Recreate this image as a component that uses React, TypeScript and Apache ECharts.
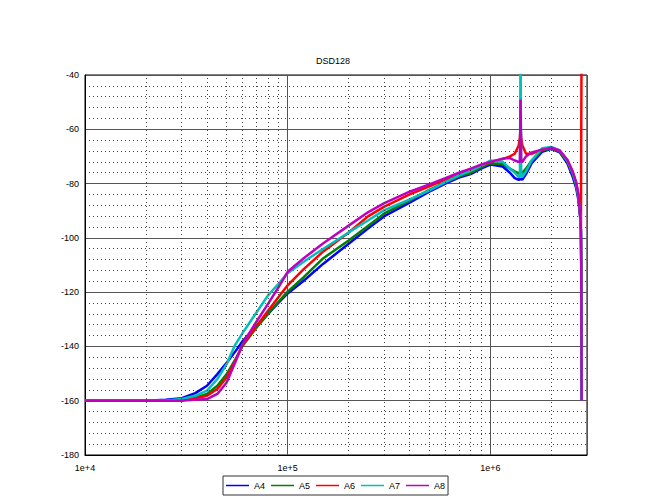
import React, { useEffect, useRef } from "react";
import * as echarts from "echarts";

const seriesNames = ["A4", "A5", "A6", "A7", "A8"];
const seriesColors = ["#0000ff", "#008000", "#ff0000", "#00bfbf", "#c000c0"];

const freq = [
  1e4, 2e4, 2.5e4, 3e4, 3.5e4, 4e4, 4.5e4, 5e4, 5.5e4, 6e4, 7e4, 8e4, 9e4,
  1e5, 1.2e5, 1.5e5, 2e5, 2.5e5, 3e5, 4e5, 5e5, 6e5, 7e5, 8e5, 9e5,
  1e6, 1.15e6, 1.25e6, 1.32e6, 1.38e6, 1.4e6, 1.41e6, 1.42e6, 1.44e6, 1.5e6, 1.6e6,
  1.8e6, 2e6, 2.2e6, 2.4e6, 2.55e6, 2.65e6, 2.72e6, 2.78e6, 2.8e6, 2.81e6, 2.8224e6,
];

const a4 = [
  -160, -160, -159.6, -159.1, -157.2, -154.5, -150.2, -146, -142, -138, -132.5, -128, -124,
  -120.5, -115.8, -109.5, -102.2, -96.5, -92, -87, -83, -80, -77.8, -76.5, -74.5,
  -73, -73.7, -76, -78, -78.6, -78.4, -78.2, -78.4, -78.5, -76.5, -72.5,
  -68.3, -67.2, -68.5, -72.5, -77.5, -81.5, -86, -93, -98, -110, -160,
];
const a5 = [
  -160, -160, -160, -159.6, -158.8, -157.5, -154.5, -150.2, -145, -139.7, -133.2, -128, -123.6,
  -119.8, -114.5, -107.5, -101, -95.5, -91, -86.2, -82.3, -79.5, -77.3, -76, -74,
  -72.5, -72.8, -74.5, -75.5, -76.2, -76, -74.5, -76, -76, -74.5, -71.5,
  -67.8, -67, -68.2, -72, -76.5, -80.5, -85, -92.5, -97.5, -110, -160,
];
const a6 = [
  -160, -160, -160, -159.8, -159.2, -158.2, -155.7, -151.4, -145.5, -139.5, -132.7, -126.9, -121.9,
  -117.5, -111.5, -105, -98, -92, -88.5, -84, -81, -78.5, -76.5, -75, -73.5,
  -72, -71, -70, -69, -66, -63, -59.5, -63, -66, -69, -69,
  -67.5, -66.8, -68, -71.5, -76, -79.5, -84, -92, -97, -97, -20,
];
const a7 = [
  -160, -160, -159.9, -159.4, -158.2, -156.3, -152, -146.5, -139.5, -135, -127.6, -121.2, -117,
  -113, -108.8, -104, -98, -93.5, -89.8, -85.8, -82.5, -79.5, -77, -75.3, -73.5,
  -71.5, -72, -74.5, -76, -77.5, -77.5, -30, -77.5, -77.5, -75.5, -71.5,
  -67, -66.5, -67.8, -71.5, -76, -80, -84.5, -92, -97.5, -110, -160,
];
const a8 = [
  -160, -160, -160, -160, -159.6, -159.4, -157.5, -153.3, -146, -139, -131, -124.3, -118.3,
  -112.5, -107.5, -102, -95.5, -90.5, -87.2, -83, -80.3, -78, -76, -74.5, -73,
  -72, -70.8, -70.6, -71.5, -72, -72, -49, -72, -72, -70, -68.5,
  -67.5, -66.8, -67.8, -71.2, -75.5, -79.5, -84, -92, -97, -110, -160,
];
const allValues = [a4, a5, a6, a7, a8];

const minorXTicks = [
  2e4, 3e4, 4e4, 5e4, 6e4, 7e4, 8e4, 9e4,
  2e5, 3e5, 4e5, 5e5, 6e5, 7e5, 8e5, 9e5,
  2e6,
];

const FONT = "'Liberation Sans', Arial, sans-serif";

export default function App() {
  const ref = useRef<HTMLDivElement>(null);
  useEffect(() => {
    if (!ref.current) return;
    const chart = echarts.init(ref.current, undefined, { renderer: "svg" });
    const dataSeries = seriesNames.map((name, si) => ({
      name,
      type: "line",
      data: freq.map((f, i) => [f, allValues[si][i]]),
      showSymbol: false,
      symbol: "none",
      clip: true,
      z: 3,
      lineStyle: { color: seriesColors[si], width: 2.5 },
      itemStyle: { color: seriesColors[si] },
    }));
    chart.setOption({
      animation: false,
      textStyle: { fontFamily: FONT },
      title: {
        text: "DSD128",
        left: "center",
        top: 56,
        padding: 0,
        textStyle: { fontSize: 9, fontWeight: "normal", color: "#000", fontFamily: FONT },
      },
      grid: {
        left: 85,
        right: 79,
        top: 75,
        bottom: 45,
        show: true,
        borderColor: "#000",
        borderWidth: 1,
        backgroundColor: "transparent",
      },
      legend: {
        data: seriesNames,
        left: 223,
        top: 476,
        padding: [5, 3],
        itemGap: 6,
        itemWidth: 23,
        itemHeight: 1.5,
        icon: "rect",
        borderColor: "#333",
        borderWidth: 1,
        textStyle: { fontSize: 9, color: "#000", fontFamily: FONT },
      },
      xAxis: {
        type: "log",
        logBase: 10,
        min: 1e4,
        max: 3e6,
        axisLine: { show: true, lineStyle: { color: "#000" } },
        axisTick: { show: false },
        axisLabel: {
          color: "#000",
          fontSize: 9,
          margin: 8,
          showMaxLabel: false,
          formatter: (v: number) => {
            const e = Math.log10(v);
            return Math.abs(e - Math.round(e)) < 1e-6 ? "1e+" + Math.round(e) : "";
          },
        },
        splitLine: { show: true, lineStyle: { color: "#555", width: 1 } },
        minorTick: { show: false },
        minorSplitLine: { show: false },
      },
      yAxis: {
        type: "value",
        min: -180,
        max: -40,
        interval: 20,
        axisLine: { show: true, lineStyle: { color: "#000" } },
        axisTick: { show: false },
        axisLabel: { color: "#000", fontSize: 9, margin: 6 },
        splitLine: { show: true, lineStyle: { color: "#555", width: 1 } },
        minorTick: { show: false, splitNumber: 5 },
        minorSplitLine: { show: true, lineStyle: { color: "#444", width: 1, type: [1, 3] } },
      },
      series: [
        {
          type: "line",
          data: [],
          z: 1,
          silent: true,
          markLine: {
            silent: true,
            symbol: ["none", "none"],
            label: { show: false },
            lineStyle: { color: "#444", width: 1, type: [1, 3] },
            emphasis: { disabled: true },
            data: minorXTicks.map((v) => ({ xAxis: v })),
          },
        },
        ...dataSeries,
      ],
    });
    return () => chart.dispose();
  }, []);
  return (
    <div
      ref={ref}
      style={{ position: "fixed", left: 0, top: 0, width: 666, height: 500, background: "#fff" }}
    />
  );
}
